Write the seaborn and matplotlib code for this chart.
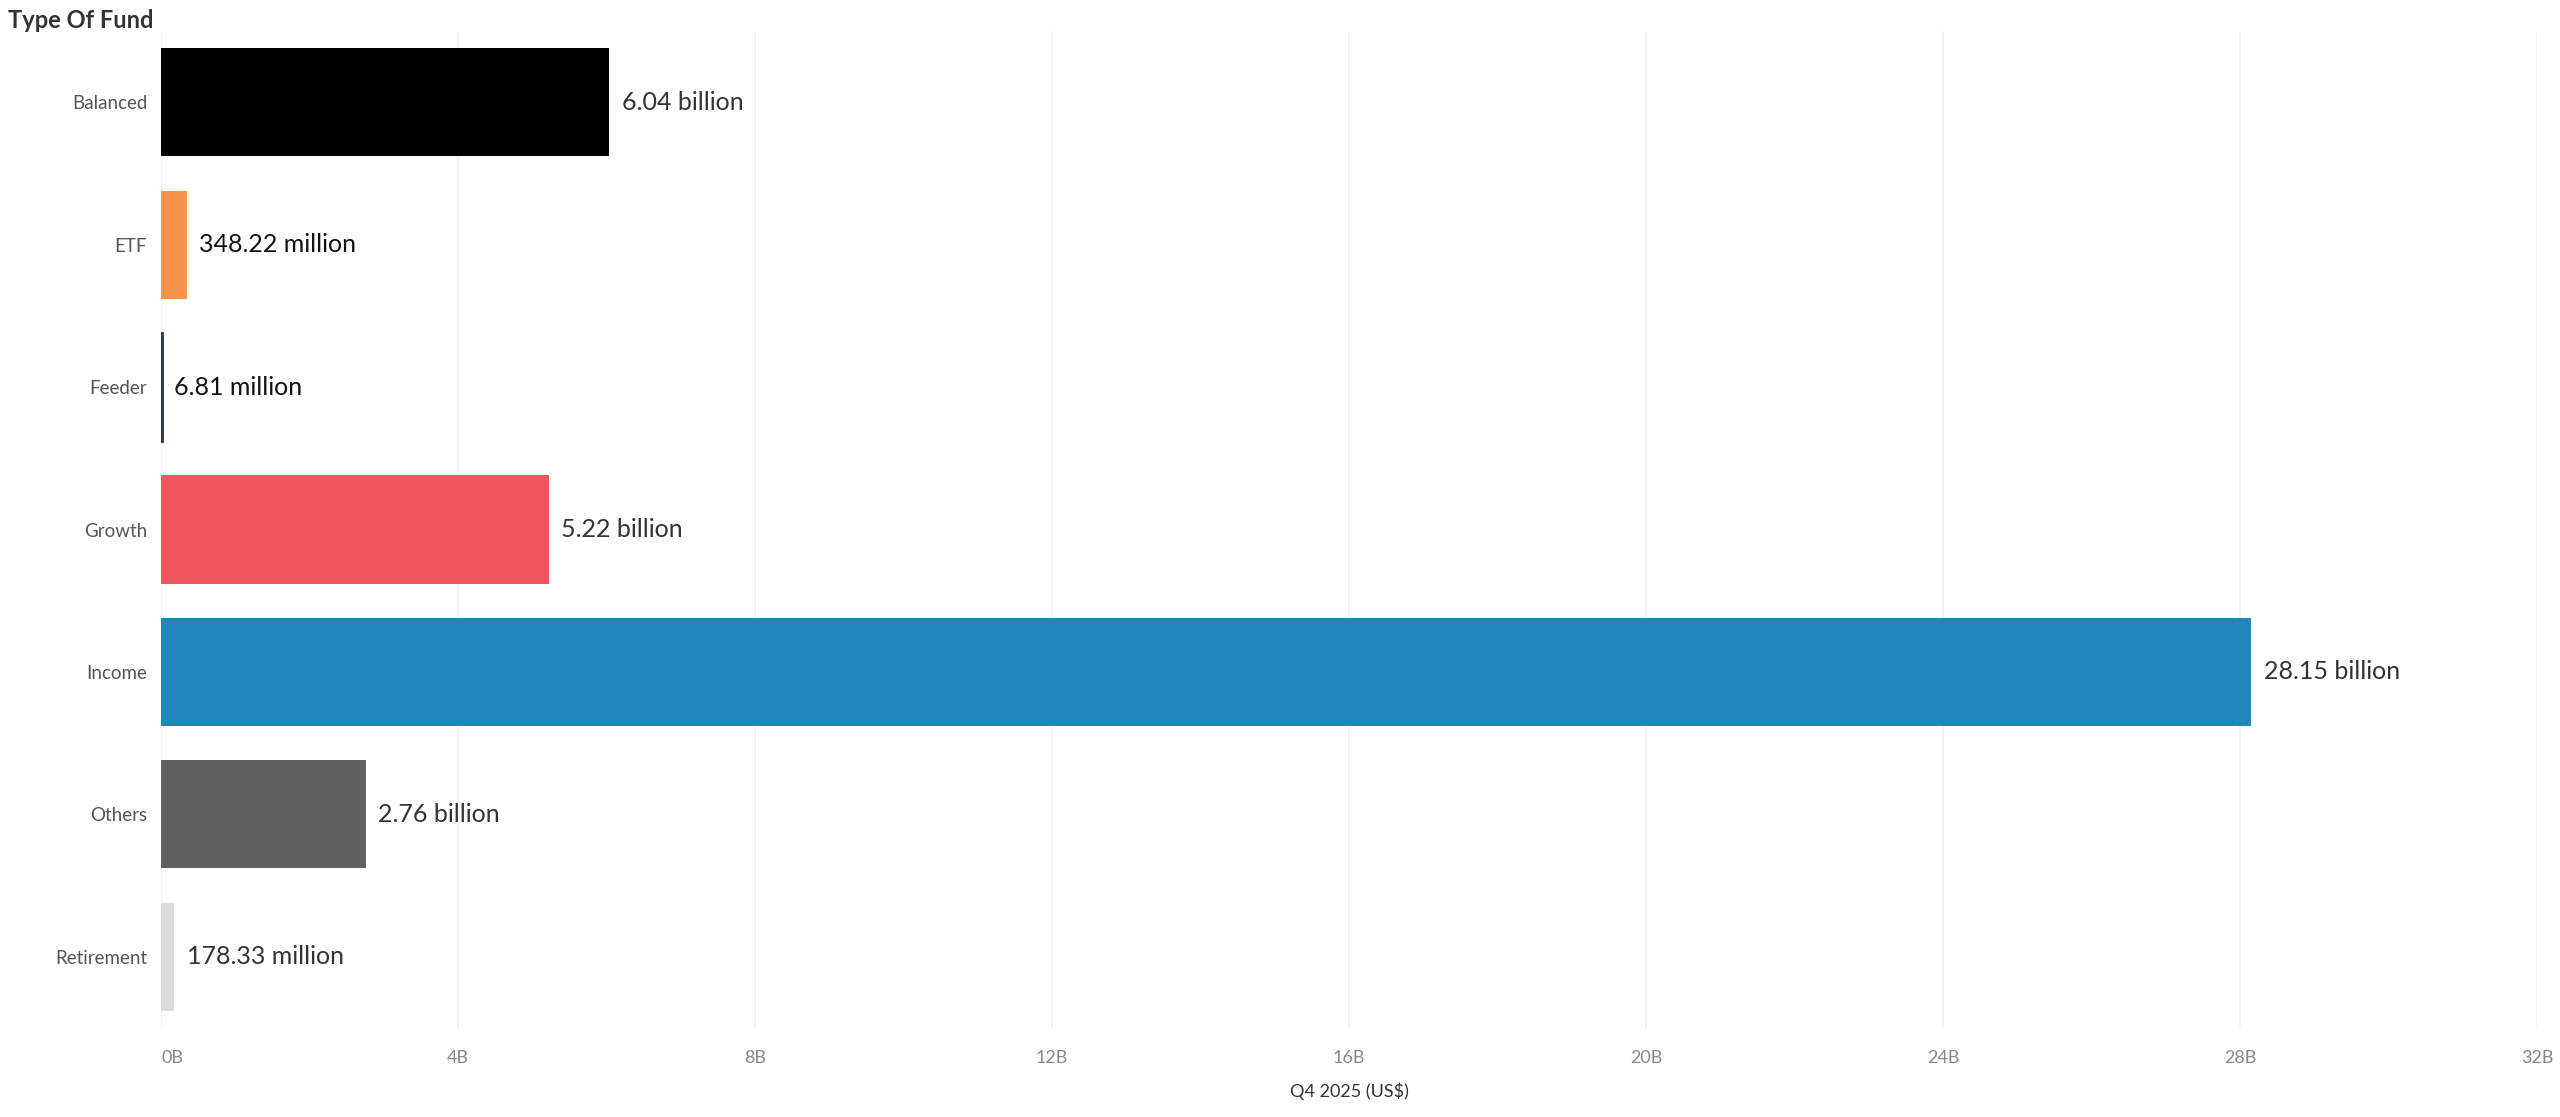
import numpy as np
import pandas as pd
import seaborn as sns
from matplotlib import pyplot as plt
from matplotlib.ticker import FuncFormatter

# data (US$ billions)
fund_types = ['Balanced', 'ETF', 'Feeder', 'Growth', 'Income', 'Others', 'Retirement']
q4_2025 = [6.04, 0.34822, 0.00681, 5.22, 28.15, 2.76, 0.17833]
bar_colors = ['#000000', '#F8914A', '#1E3A52', '#F0545D', '#1F87B9', '#5F6060', '#DCDCDC']
label_colors = ['#333333', '#111111', '#111111', '#333333', '#333333', '#333333', '#333333']
x_ticks = [0, 4, 8, 12, 16, 20, 24, 28, 32]

sns.set_style("white")
plt.rcParams['font.family'] = ['Lato', 'DejaVu Sans']

df = pd.DataFrame({'fund': fund_types, 'value': q4_2025})

fig = plt.figure(figsize=(25.6, 11.17), dpi=100)
ax = fig.add_axes([0.0629, 0.0797, 0.9281, 0.8925])

sns.barplot(data=df, x='value', y='fund', hue='fund', palette=bar_colors,
            width=0.76, legend=False, ax=ax, saturation=1)

# feeder bar is tiny, give it a visible edge like the reference
for p, c in zip(ax.patches, bar_colors):
    p.set_edgecolor(c)
    p.set_linewidth(0)
ax.patches[2].set_linewidth(2)

def fmt_val(v):
    if v >= 1:
        return f"{v:.2f} billion"
    return f"{v*1000:.2f} million"

for cont, v, lc in zip(ax.containers, q4_2025, label_colors):
    ax.bar_label(cont, labels=[fmt_val(v)], padding=9, fontsize=18, color=lc)

ax.set_xlim(0, 32)
ax.set_ylim(6.5, -0.5)
ax.set_xticks(x_ticks)
ax.xaxis.set_major_formatter(FuncFormatter(lambda x, pos: f"{int(x)}B"))
ax.grid(axis='x', color='#F2F2F2', linewidth=1.2)
ax.grid(axis='y', visible=False)
ax.set_axisbelow(True)
sns.despine(left=True, bottom=True)
ax.tick_params(axis='both', length=0)
ax.tick_params(axis='x', labelsize=13, labelcolor='#888888', pad=16)
ax.tick_params(axis='y', labelsize=13.5, labelcolor='#555555', pad=10)
ax.get_xticklabels()[0].set_ha('left')
ax.set_ylabel('')
ax.set_xlabel('Q4 2025 (US$)', fontsize=13, color='#333333', labelpad=12)

fig.text(0.003, 0.982, 'Type Of Fund', fontsize=17, fontweight='bold',
         color='#333333', ha='left', va='center')

plt.savefig("out.png", dpi=100)
